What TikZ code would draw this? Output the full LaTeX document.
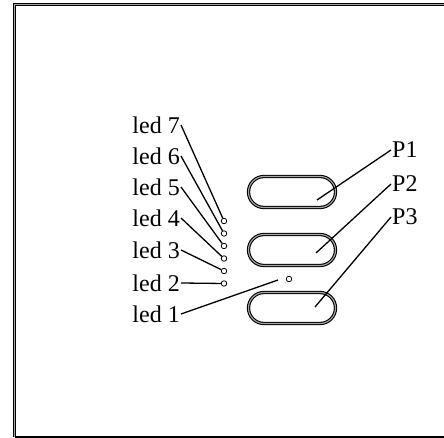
\documentclass[tikz,border=0pt]{standalone}
\usepackage{fontspec}
\setmainfont{Liberation Serif}
\begin{document}
\begin{tikzpicture}[x=1pt,y=-1pt,
  frame/.style={draw=black,line width=1.1pt,double=gray!70,double distance=1.1pt},
  button/.style={draw=black,line width=1.1pt,double=gray!70,double distance=1.1pt,rounded corners=15.5pt,minimum width=87pt,minimum height=31pt,inner sep=0pt},
  led/.style={circle,draw=black,line width=0.8pt,fill=white,inner sep=0pt,minimum size=5.5pt},
  lbl/.style={font=\fontsize{24}{26}\selectfont,inner sep=1pt},
  wire/.style={draw=black,line width=1.3pt}]
\useasboundingbox (0,0) rectangle (444,438);
% frame
\draw[frame] (14.5,437) -- (14.5,4.5) -- (446,4.5);
\draw[line width=1.2pt] (14.5,437) -- (446,437);
% buttons
\node[button] (b1) at (292,192) {};
\node[button] (b2) at (292,250) {};
\node[button] (b3) at (292,308) {};
% leds
\node[led] (l7) at (224,221) {};
\node[led] (l6) at (224,233.5) {};
\node[led] (l5) at (224,246) {};
\node[led] (l4) at (224,258.5) {};
\node[led] (l3) at (224,271) {};
\node[led] (l2) at (224,283.5) {};
\node[led] (l1) at (289,279) {};
% led labels
\node[lbl,anchor=east] (t7) at (181,125) {led 7};
\node[lbl,anchor=east] (t6) at (181,156) {led 6};
\node[lbl,anchor=east] (t5) at (181,187) {led 5};
\node[lbl,anchor=east] (t4) at (181,218) {led 4};
\node[lbl,anchor=east] (t3) at (181,250) {led 3};
\node[lbl,anchor=east] (t2) at (181,283) {led 2};
\node[lbl,anchor=east] (t1) at (181,314) {led 1};
\coordinate (e1) at (278,280);
\draw[wire] (t7.east) -- (l7);
\draw[wire] (t6.east) -- (l6);
\draw[wire] (t5.east) -- (l5);
\draw[wire] (t4.east) -- (l4);
\draw[wire] (t3.east) -- (l3);
\draw[wire] (t2.east) -- (l2);
\draw[wire] (t1.east) -- (e1);
% P labels
\node[lbl,anchor=west] (p1) at (391,150) {P1};
\node[lbl,anchor=west] (p2) at (391,184) {P2};
\node[lbl,anchor=west] (p3) at (391,217) {P3};
\coordinate (s1) at (317,200);
\coordinate (s2) at (316,253);
\coordinate (s3) at (315,307);
\draw[wire] (s1) -- (p1.west);
\draw[wire] (s2) -- (p2.west);
\draw[wire] (s3) -- (p3.west);
\end{tikzpicture}
\end{document}
